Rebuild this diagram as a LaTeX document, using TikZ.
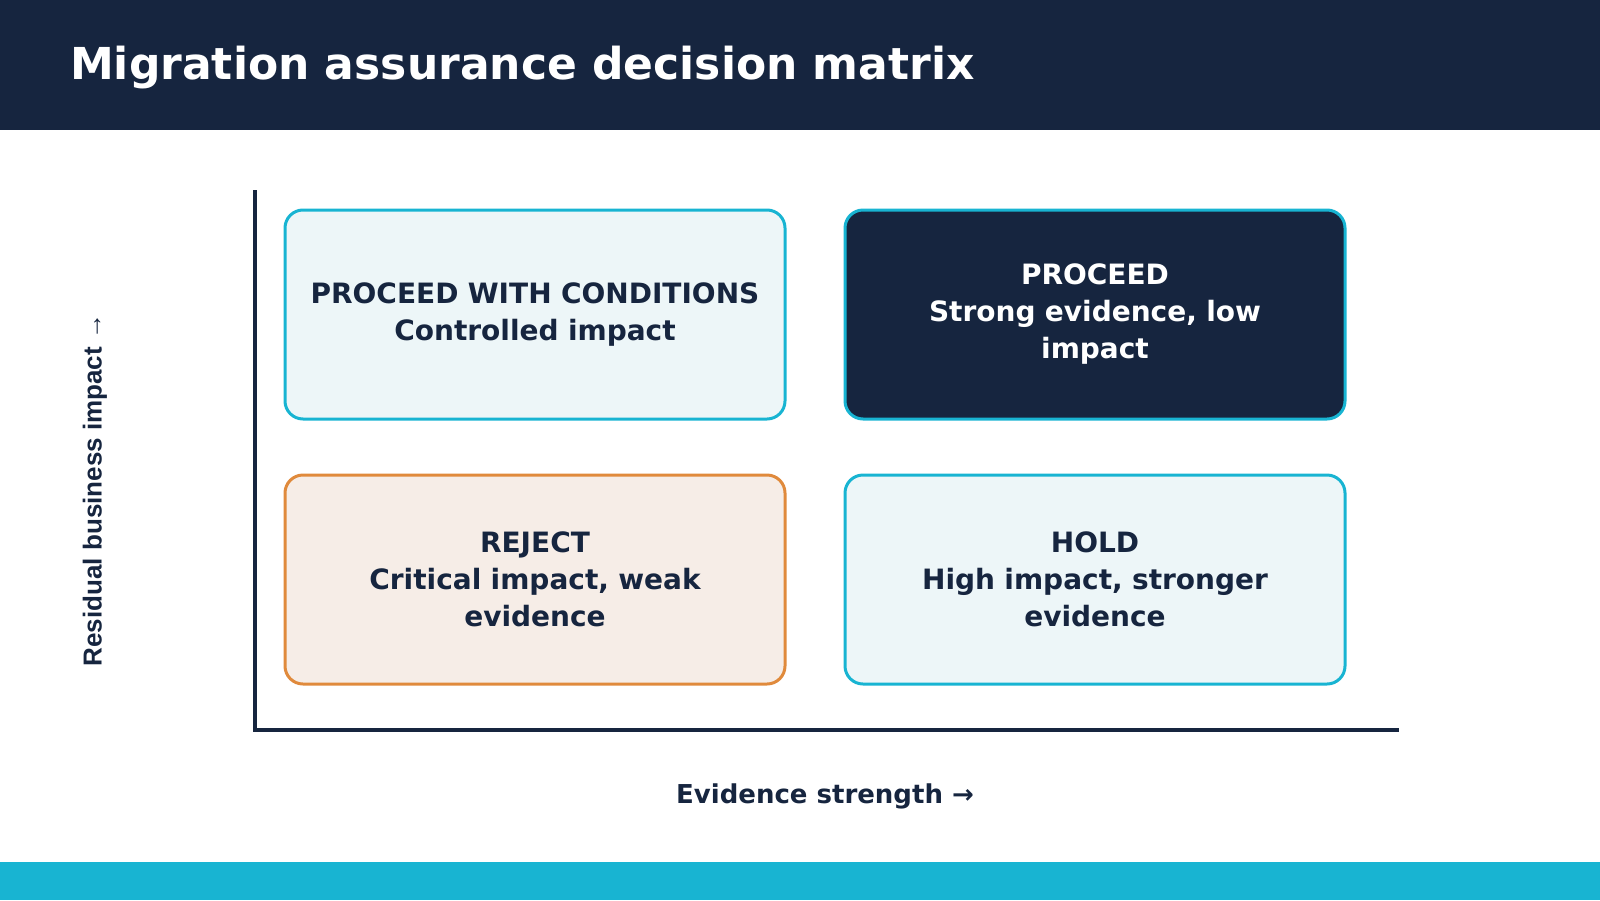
\documentclass[tikz,border=0pt]{standalone}
\usepackage{fontspec}
\setmainfont{DejaVu Sans}
\newfontfamily\arialf{Liberation Sans}
\definecolor{navy}{HTML}{16253F}
\definecolor{cyan}{HTML}{18B4D2}
\definecolor{lightc}{HTML}{EDF6F8}
\definecolor{orng}{HTML}{E08A3C}
\definecolor{lighto}{HTML}{F6EDE7}
\begin{document}
\begin{tikzpicture}[x=1pt,y=-1pt,
 box/.style={draw=cyan,line width=3pt,rounded corners=18pt,fill=lightc,minimum width=500pt,minimum height=209pt,text width=480pt,align=center,font=\fontsize{28}{37}\selectfont\bfseries,text=navy},
 ]
\useasboundingbox (0,0) rectangle (1600,900);
\fill[navy] (0,0) rectangle (1600,130);
\fill[cyan] (0,862) rectangle (1600,900);
\node[anchor=base west,text=white,font=\fontsize{44}{50}\selectfont\bfseries,inner sep=0] (title) at (70,79) {Migration assurance decision matrix};
\coordinate (top) at (255,190);
\coordinate (org) at (255,730);
\coordinate (right) at (1399,730);
\draw[navy,line width=4pt] (top) -- (org) -- (right);
\node[box] (pwc) at (535,314.5) {PROCEED WITH CONDITIONS\\Controlled impact};
\node[box,fill=navy,text=white] (p) at (1095,314.5) {PROCEED\\Strong evidence, low\\impact};
\node[box,draw=orng,fill=lighto] (r) at (535,579.5) {REJECT\\Critical impact, weak\\evidence};
\node[box] (h) at (1095,579.5) {HOLD\\High impact, stronger\\evidence};
\node[text=navy,font=\fontsize{26}{30}\selectfont\bfseries] (xl) at (825,796) {Evidence strength →};
\node[text=navy,rotate=90,font=\fontsize{26}{30}\selectfont\bfseries\arialf] (yl) at (95,490) {Residual business impact →};
\end{tikzpicture}
\end{document}
